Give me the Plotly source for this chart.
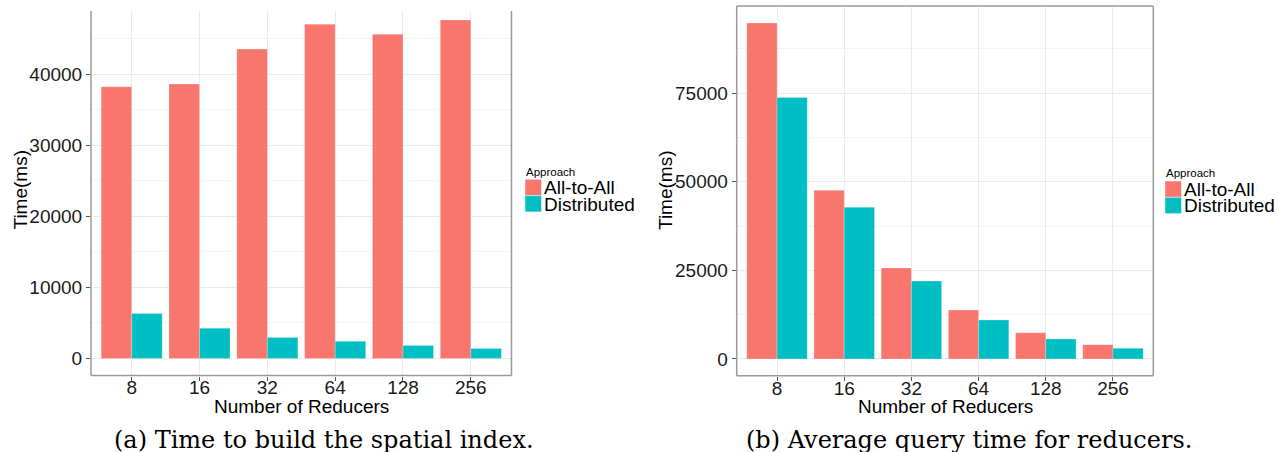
import plotly.graph_objects as go

# Number of reducers (x categories)
reducers = ["8", "16", "32", "64", "128", "256"]
approaches = ["All-to-All", "Distributed"]

# (a) Time to build the spatial index, in ms
build_all_to_all = [38200, 38600, 43500, 47000, 45600, 47600]
build_distributed = [6330, 4260, 2950, 2430, 1830, 1400]

# (b) Average query time for reducers, in ms
query_all_to_all = [94800, 47600, 25700, 13800, 7400, 4040]
query_distributed = [73800, 42800, 22000, 11000, 5650, 3020]

COLORS = ["#F8766D", "#00BFC4"]
W, H = 1278, 452
SANS = "Liberation Sans, Arial, Helvetica, sans-serif"
SERIF = "DejaVu Serif, Liberation Serif, serif"


def px_x(p):
    return p / W


def px_y(p):
    return 1 - p / H


fig = go.Figure()

bar_edge = dict(color="rgba(255,255,255,0.4)", width=0.6)
for series, color, name in zip([build_all_to_all, build_distributed], COLORS, approaches):
    fig.add_trace(go.Bar(x=reducers, y=series, name=name, marker_color=color,
                         marker_line=bar_edge, xaxis="x", yaxis="y", showlegend=False))
for series, color, name in zip([query_all_to_all, query_distributed], COLORS, approaches):
    fig.add_trace(go.Bar(x=reducers, y=series, name=name, marker_color=color,
                         marker_line=bar_edge, xaxis="x2", yaxis="y2", showlegend=False))

grid_major = "#ebebeb"
grid_minor = "#f4f4f4"
tick_gray = "#555555"

common_x = dict(
    type="category", range=[-0.6, 5.6], showgrid=True, gridcolor=grid_major, gridwidth=1,
    ticks="outside", ticklen=4, tickcolor=tick_gray, tickwidth=1,
    tickfont=dict(family=SANS, size=19, color="#1a1a1a"), ticklabelstandoff=-9,
    showline=False, zeroline=False,
)
common_y = dict(
    showgrid=True, gridcolor=grid_major, gridwidth=1,
    ticks="outside", ticklen=4, tickcolor=tick_gray, tickwidth=1,
    tickfont=dict(family=SANS, size=19, color="#1a1a1a"),
    tickformat="d", showline=False, zeroline=False,
)

fig.update_layout(
    width=W, height=H,
    margin=dict(l=0, r=0, t=0, b=0),
    paper_bgcolor="white", plot_bgcolor="white",
    barmode="group", bargap=0.1, bargroupgap=0,
    showlegend=False,
    xaxis=dict(common_x, domain=[px_x(91), px_x(511.5)], anchor="y"),
    yaxis=dict(common_y, domain=[px_y(375.5), px_y(11)], anchor="x",
               range=[-2400, 48860], tickvals=[0, 10000, 20000, 30000, 40000],
               minor=dict(tickvals=[5000, 15000, 25000, 35000, 45000], showgrid=True,
                          gridcolor=grid_minor, ticks="")),
    xaxis2=dict(common_x, domain=[px_x(736.7), px_x(1153.3)], anchor="y2"),
    yaxis2=dict(common_y, domain=[px_y(375.7), px_y(6)], anchor="x2",
                range=[-4715, 99600], tickvals=[0, 25000, 50000, 75000],
                minor=dict(tickvals=[12500, 37500, 62500, 87500], showgrid=True,
                           gridcolor=grid_minor, ticks="")),
)

# Panel borders (the left panel's top edge is clipped)
border = dict(type="line", line=dict(color="#9a9a9a", width=1.5), layer="above")
for xref, yref, sides in [("x domain", "y domain", ["l", "r", "b"]),
                          ("x2 domain", "y2 domain", ["l", "r", "b", "t"])]:
    for s in sides:
        c = {"l": dict(x0=0, x1=0, y0=0, y1=1),
             "r": dict(x0=1, x1=1, y0=0, y1=1),
             "b": dict(x0=0, x1=1, y0=0, y1=0),
             "t": dict(x0=0, x1=1, y0=1, y1=1)}[s]
        fig.add_shape(border, xref=xref, yref=yref, **c)

title_font = dict(family=SANS, size=19, color="#000")


def label(text, x, y, font, xanchor="center", angle=0):
    fig.add_annotation(text=text, x=px_x(x), y=px_y(y), xanchor=xanchor, yanchor="middle",
                       textangle=angle, xref="paper", yref="paper", showarrow=False, font=font)


# Axis titles
for xc in (301, 945):
    label("Number of Reducers", xc, 406, title_font)
for xc in (19.5, 665):
    label("Time(ms)", xc, 190, title_font, angle=-90)

# Legends ("Approach") beside each panel
for kx, ky, ty in [(525, 179.3, 171.7), (1165, 181, 173.3)]:
    label("Approach", kx - 1, ty, dict(family=SANS, size=11.5, color="#000"), xanchor="left")
    for i, (name, color) in enumerate(zip(approaches, COLORS)):
        y0 = ky + i * 16.3
        fig.add_shape(type="rect", xref="paper", yref="paper",
                      x0=px_x(kx), x1=px_x(kx + 16.5), y0=px_y(y0), y1=px_y(y0 + 16.3),
                      fillcolor=color, line=dict(color="rgba(255,255,255,0.6)", width=0.8))
        label(name, kx + 17, y0 + 8.6, title_font, xanchor="left")

# Sub-figure captions
caption_font = dict(family=SERIF, size=24, color="#000")
label("(a) Time to build the spatial index.", 324, 440, caption_font)
label("(b) Average query time for reducers.", 969, 440, caption_font)

fig.write_html("out.html")
